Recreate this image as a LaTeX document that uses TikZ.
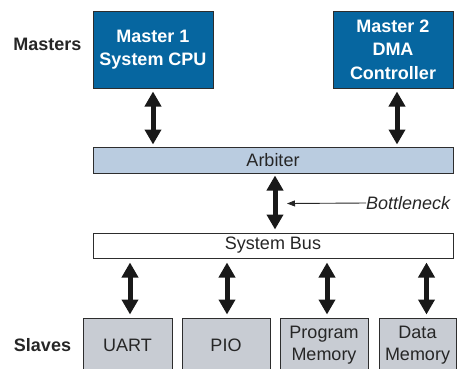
\documentclass[tikz,border=0pt]{standalone}
\usepackage{fontspec}
\setmainfont{Liberation Sans}
\usetikzlibrary{arrows.meta}
\definecolor{mblue}{RGB}{6,102,160}
\definecolor{arbblue}{RGB}{186,204,224}
\definecolor{slavegray}{RGB}{200,204,211}
\definecolor{edgecol}{RGB}{45,45,45}
\tikzset{
  txt/.style={font=\fontsize{18}{22.5}\selectfont, inner sep=0pt, align=center},
  box/.style={txt, draw=edgecol, line width=1pt},
  masterbox/.style={box, fill=mblue, text=white, font=\fontsize{18}{23.5}\selectfont\bfseries, minimum width=120pt, minimum height=77pt},
  barbox/.style={box, minimum width=360pt},
  slavebox/.style={box, fill=slavegray, text=black!85, minimum height=54pt},
  lbl/.style={txt, font=\fontsize{18}{22}\selectfont\bfseries, text=black!85},
  bigarrow/.style={line width=5pt, black!90, {Triangle[width=16pt,length=15pt]}-{Triangle[width=16pt,length=15pt]}},
  thinarrow/.style={line width=0.9pt, black!85, -{Triangle[width=6pt,length=8pt]}}
}
\begin{document}
\begin{tikzpicture}[x=1pt,y=-1pt]
\useasboundingbox (0,0) rectangle (458,368);
% masters
\node[masterbox] (m1) at (153,49.5) {Master 1\\System CPU};
\node[masterbox] (m2) at (393,49.5) {Master 2\\DMA\\Controller};
\node[lbl] (masters) at (47.5,44) {Masters};
% arbiter & bus
\node[barbox, fill=arbblue, minimum height=26pt, text=black!85] (arb) at (273,160) {Arbiter};
\node[barbox, fill=white, minimum height=25pt, text=black!85] (bus) at (273,245.5) {System Bus};
% slaves
\node[slavebox, minimum width=89pt] (uart) at (127.5,345) {UART};
\node[slavebox, minimum width=88pt] (pio) at (226,345) {PIO};
\node[slavebox, minimum width=88pt] (prog) at (324,345) {Program\\Memory};
\node[slavebox, minimum width=77pt] (data) at (417.5,345) {Data\\Memory};
\node[lbl] (slaves) at (42.5,345) {Slaves};
% master arrows
\draw[bigarrow] ([yshift=-3pt]m1.south) -- ([yshift=2pt]m1.south |- arb.north);
\draw[bigarrow] ([xshift=4pt,yshift=-3pt]m2.south) -- ([xshift=4pt,yshift=2pt]m2.south |- arb.north);
% bottleneck arrow
\draw[bigarrow] ([xshift=2pt,yshift=-2pt]arb.south) -- ([xshift=2pt,yshift=3pt]arb.south |- bus.north);
\node[txt, font=\fontsize{18}{22}\selectfont\itshape, text=black!85, anchor=west] (bn) at (366,203) {Bottleneck};
\coordinate (bntip) at (287,203.5);
\draw[thinarrow] (bn.west) -- (bntip);
% slave arrows
\draw[bigarrow] ([xshift=2.5pt,yshift=-4pt]bus.south -| uart.north) -- ([xshift=2.5pt,yshift=3pt]uart.north);
\draw[bigarrow] ([xshift=1pt,yshift=-4pt]bus.south -| pio.north) -- ([xshift=1pt,yshift=3pt]pio.north);
\draw[bigarrow] ([xshift=3pt,yshift=-4pt]bus.south -| prog.north) -- ([xshift=3pt,yshift=3pt]prog.north);
\draw[bigarrow] ([xshift=9pt,yshift=-4pt]bus.south -| data.north) -- ([xshift=9pt,yshift=3pt]data.north);
\end{tikzpicture}
\end{document}
